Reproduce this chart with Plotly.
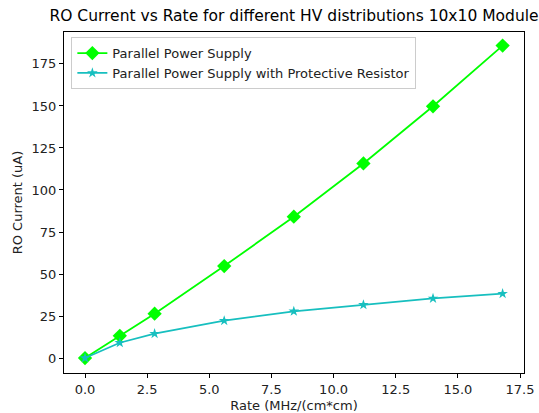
import plotly.graph_objects as go

# Rate (MHz/cm^2) and readout current (uA) per HV distribution
rate = [0.0, 1.4, 2.8, 5.6, 8.4, 11.2, 14.0, 16.8]
parallel_ps = [0.0, 13.2, 26.4, 54.7, 84.1, 115.8, 149.8, 185.9]
parallel_ps_resistor = [0.0, 9.1, 14.5, 22.2, 27.8, 31.7, 35.5, 38.3]

x_ticks = [0.0, 2.5, 5.0, 7.5, 10.0, 12.5, 15.0, 17.5]
y_ticks = [0, 25, 50, 75, 100, 125, 150, 175]

font = "DejaVu Sans"

fig = go.Figure()
fig.add_trace(go.Scatter(
    x=rate, y=parallel_ps, mode="lines+markers",
    name="Parallel Power Supply",
    line=dict(color="#00ff00", width=1.8),
    marker=dict(symbol="diamond", size=11, color="#00ff00"),
))
fig.add_trace(go.Scatter(
    x=rate, y=parallel_ps_resistor, mode="lines+markers",
    name="Parallel Power Supply with Protective Resistor",
    line=dict(color="#17bfbf", width=1.8),
    marker=dict(symbol="star", size=8, color="#17bfbf"),
))

axis_common = dict(
    showline=True, linecolor="black", linewidth=1, mirror=True,
    ticks="outside", ticklen=4, tickcolor="black", showgrid=False,
    zeroline=False, tickfont=dict(family=font, size=13, color="#222"),
)

fig.update_layout(
    width=539, height=413,
    margin=dict(l=64, r=15, t=32, b=40, autoexpand=False),
    paper_bgcolor="white", plot_bgcolor="white",
    font=dict(family=font, color="#222"),
    title=dict(
        text="RO Current vs Rate for different HV distributions 10x10 Module",
        x=0.5, xanchor="center", xref="paper", y=0.963, yanchor="middle",
        font=dict(family=font, size=15.5, color="black"),
    ),
    xaxis=dict(
        range=[-0.845, 17.66], tickvals=x_ticks,
        ticktext=[f"{v:.1f}" for v in x_ticks],
        title=dict(text="Rate (MHz/(cm*cm)", standoff=6,
                   font=dict(family=font, size=13, color="#222")),
        **axis_common,
    ),
    yaxis=dict(
        range=[-8.9, 194], tickvals=y_ticks,
        title=dict(text="RO Current (uA)", standoff=6,
                   font=dict(family=font, size=13, color="#222")),
        **axis_common,
    ),
    legend=dict(
        x=0.016, y=0.985, xanchor="left", yanchor="top",
        bgcolor="rgba(255,255,255,0.8)", bordercolor="#cccccc", borderwidth=1,
        font=dict(family=font, size=13, color="#222"),
        tracegroupgap=0, itemwidth=30,
    ),
    showlegend=True,
)

fig.write_html("out.html")
